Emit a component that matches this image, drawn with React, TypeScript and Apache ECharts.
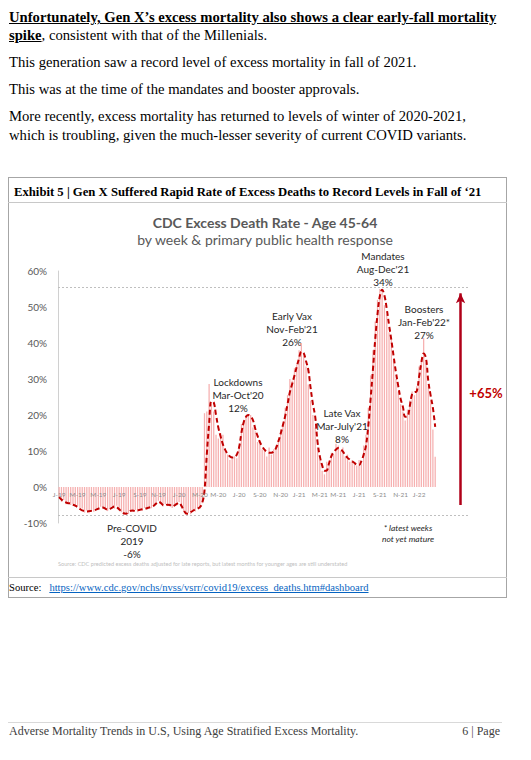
import React, { useEffect, useRef } from "react";
import * as echarts from "echarts";

// ---- data (weekly excess death rate, age 45-64, % above expected) ----
const FIRST_WEEK = { year: 2019, month: 0, day: 5 };
const MONTH_LETTERS = ["J", "F", "M", "A", "M", "J", "J", "A", "S", "O", "N", "D"];

const WEEKLY_EXCESS = [
  -3.2, -4.1, -3.6, -4.8, -4.2, -5.0, -4.7, -5.5, -5.2, -6.3,
  -6.0, -7.1, -6.5, -7.3, -6.2, -6.9, -6.0, -6.4, -5.5, -6.1,
  -5.8, -6.7, -5.9, -5.3, -6.0, -5.2, -6.5, -7.0, -7.8, -7.1,
  -7.5, -6.3, -6.9, -6.4, -7.0, -6.0, -6.6, -5.8, -6.3, -5.5,
  -5.9, -4.8, -5.0, -3.8, -4.6, -5.4, -4.7, -5.3, -4.8, -5.8,
  -4.9, -5.1, -4.2, -5.6, -6.9, -7.8, -7.2, -7.6, -6.4, -6.8,
  -5.8, -6.1, -4.5,
  20.5, 21.0, 28.6, 23.0, 21.0, 14.5, 13.5, 15.0, 14.5, 10.5,
  9.0, 7.5, 8.0, 8.5, 8.0, 11.5, 17.5, 18.0, 20.0, 20.2,
  20.0, 16.5, 15.5, 12.5, 12.0, 10.5, 10.0, 8.5, 11.0, 9.0,
  10.5, 11.5, 13.0, 16.0, 17.5, 22.0, 25.5, 30.0, 29.5, 33.0,
  34.0, 38.0, 40.0, 36.5, 33.5, 28.5, 24.0, 20.0, 16.5, 11.0,
  7.5, 4.5, 3.5, 7.0, 6.0, 9.5, 9.0, 12.0, 11.5, 10.0,
  11.0, 8.5, 9.0, 7.0, 7.5, 6.5, 6.0, 7.5, 6.5, 11.5,
  14.5, 22.0, 31.0, 38.0, 46.0, 52.0, 55.0, 54.0, 50.5, 48.0,
  43.0, 41.0, 35.0, 30.0, 26.5, 23.0, 21.0, 18.5, 21.5, 24.0,
  26.5, 25.5, 28.0, 33.5, 35.5, 41.4, 34.5, 28.0, 24.0, 16.0,
  8.4,
];

const TREND_EXCESS = [
  -2.8, -3.5, -4.0, -4.3, -4.5, -4.6, -4.9, -5.2, -5.6, -6.1,
  -6.5, -6.7, -6.8, -6.7, -6.6, -6.5, -6.3, -6.0, -5.8, -5.7,
  -6.0, -6.3, -6.1, -5.7, -5.4, -5.6, -6.2, -6.8, -7.3, -7.4,
  -7.0, -6.6, -6.5, -6.7, -6.5, -6.3, -6.2, -6.0, -5.9, -5.7,
  -5.5, -5.2, -4.6, -4.1, -4.4, -5.0, -5.1, -4.9, -5.0, -5.4,
  -5.1, -4.7, -4.4, -5.2, -6.5, -7.3, -7.4, -7.0, -6.6, -6.2,
  -6.0, -5.6, -4.5,
  -1.0, 9.0, 17.5, 23.8, 23.5, 20.0, 16.5, 14.0, 11.8, 10.3,
  9.2, 8.5, 8.2, 8.3, 9.0, 11.0, 15.0, 18.0, 19.5, 20.0,
  19.6, 18.6, 16.2, 14.2, 12.5, 11.3, 10.4, 9.8, 9.5, 9.5,
  9.9, 10.8, 12.6, 14.8, 17.2, 19.8, 23.0, 26.3, 28.6, 31.0,
  33.4, 35.8, 37.6, 37.2, 35.0, 32.5, 27.5, 23.0, 19.5, 12.5,
  8.5, 6.0, 4.5, 4.6, 6.6, 8.6, 9.6, 10.4, 10.8, 10.5,
  9.8, 8.9, 8.1, 7.6, 7.1, 6.7, 6.2, 6.1, 7.2, 9.0,
  11.5, 17.0, 24.5, 32.5, 41.0, 48.0, 53.0, 54.8, 53.2, 49.5,
  45.0, 40.8, 36.2, 31.8, 28.0, 24.5, 22.3, 19.5, 19.6, 22.5,
  25.8, 26.3, 26.6, 30.5, 34.5, 37.1, 35.8, 29.5, 25.5, 22.0,
  16.7,
];

const Y_MIN = -10;
const Y_MAX = 60;
const Y_STEP = 10;
const PEAK_LEVEL = 55.6;
const TROUGH_LEVEL = -7.8;
const ARROW_FROM = -5;
const ARROW_TO = 53.8;
const ARROW_WEEK = 174;
const EXTRA_WEEKS = 14;

const ANNOTATIONS = [
  { lines: ["Lockdowns", "Mar-Oct'20", "12%"], x: 238, y: 382 },
  { lines: ["Early Vax", "Nov-Feb'21", "26%"], x: 292, y: 316 },
  { lines: ["Late Vax", "Mar-July'21", "8%"], x: 342, y: 413 },
  { lines: ["Mandates", "Aug-Dec'21", "34%"], x: 383, y: 256 },
  { lines: ["Boosters", "Jan-Feb'22*", "27%"], x: 424, y: 309 },
  { lines: ["Pre-COVID", "2019", "-6%"], x: 132, y: 528 },
];

const CHART_FONT = "Lato, 'Open Sans', sans-serif";
const SERIF = "'Liberation Serif', 'Times New Roman', serif";

const weekDates = Array.from(
  { length: WEEKLY_EXCESS.length + EXTRA_WEEKS },
  (_, i) => new Date(Date.UTC(FIRST_WEEK.year, FIRST_WEEK.month, FIRST_WEEK.day + 7 * i))
);
const categories = weekDates.map((d) => d.toISOString().slice(0, 10));

function tickLabel(i: number): string {
  if (i >= WEEKLY_EXCESS.length) return "";
  const d = weekDates[i];
  const m = d.getUTCMonth();
  if (d.getUTCDate() <= 7 && m % 2 === 0) {
    return MONTH_LETTERS[m] + "-" + String(d.getUTCFullYear()).slice(2);
  }
  return "";
}

function buildGraphic() {
  const els: any[] = [];
  const txt = (text: string, x: number, y: number, font: string, fill: string, align = "center") => ({
    type: "text",
    x,
    y,
    silent: true,
    style: {
      text,
      font,
      fill,
      textAlign: align,
      textVerticalAlign: "middle",
      align,
      verticalAlign: "middle",
    },
  });
  els.push(txt("CDC Excess Death Rate - Age 45-64", 265, 222, `bold 14px ${CHART_FONT}`, "#595959"));
  els.push(txt("by week & primary public health response", 265, 239, `14px ${CHART_FONT}`, "#595959"));
  ANNOTATIONS.forEach((a) => {
    a.lines.forEach((l, k) => {
      els.push(txt(l, a.x, a.y + k * 13, `10px ${CHART_FONT}`, "#262626"));
    });
  });
  els.push(txt("* latest weeks", 408, 528, `italic 8.5px ${CHART_FONT}`, "#262626"));
  els.push(txt("not yet mature", 408, 539, `italic 8.5px ${CHART_FONT}`, "#262626"));
  els.push(txt("+65%", 486, 393, `bold 13px ${CHART_FONT}`, "#C00000"));
  els.push(
    txt(
      "Source: CDC predicted excess deaths adjusted for late reports, but latest months for younger ages are still understated",
      58,
      563,
      `5.6px ${CHART_FONT}`,
      "#c0c0c0",
      "left"
    )
  );
  return els;
}

const GRID_TOP = 271;
const GRID_BOTTOM_Y = 523;

function Chart() {
  const ref = useRef<HTMLDivElement>(null);
  useEffect(() => {
    if (!ref.current) return;
    const chart = echarts.init(ref.current, undefined, { renderer: "svg" });
    const plotRight = 58 + categories.length * 2.307;
    const plotHeight = GRID_BOTTOM_Y - GRID_TOP;
    // place the category axis on the zero line of the value axis
    const zeroOffset = -((0 - Y_MIN) / (Y_MAX - Y_MIN)) * plotHeight;
    chart.setOption({
      animation: false,
      grid: { left: 58, right: 531 - plotRight, top: GRID_TOP, bottom: 760 - GRID_BOTTOM_Y, containLabel: false },
      xAxis: {
        type: "category",
        data: categories,
        boundaryGap: true,
        position: "bottom",
        offset: zeroOffset,
        z: 6,
        axisLine: { show: false, onZero: false },
        axisTick: { show: false },
        splitLine: { show: false },
        axisLabel: {
          interval: (i: number) => tickLabel(i) !== "",
          formatter: (_v: string, i: number) => tickLabel(i),
          fontSize: 6.5,
          color: "#8c8c8c",
          margin: 4,
          fontFamily: CHART_FONT,
          hideOverlap: false,
        },
      },
      yAxis: {
        type: "value",
        min: Y_MIN,
        max: Y_MAX,
        interval: Y_STEP,
        axisLine: { show: true, lineStyle: { color: "#d0d0d0", width: 1 } },
        axisTick: { show: false },
        splitLine: { show: false },
        axisLabel: {
          formatter: "{value}%",
          color: "#595959",
          fontSize: 10,
          margin: 11,
          fontFamily: CHART_FONT,
        },
      },
      series: [
        {
          type: "bar",
          name: "Weekly excess",
          data: WEEKLY_EXCESS,
          barWidth: "55%",
          silent: true,
          z: 2,
          itemStyle: { color: "#F6B0B0" },
          markLine: {
            silent: true,
            symbol: ["none", "none"],
            label: { show: false },
            data: [
              { yAxis: PEAK_LEVEL, lineStyle: { type: [2, 2], color: "#bfbfbf", width: 1 } },
              { yAxis: TROUGH_LEVEL, lineStyle: { type: [2, 2], color: "#bfbfbf", width: 1 } },
              [
                {
                  coord: [categories[ARROW_WEEK], ARROW_FROM],
                  symbol: "none",
                  lineStyle: { type: "solid", color: "#B00018", width: 2.5 },
                },
                { coord: [categories[ARROW_WEEK], ARROW_TO], symbol: "arrow", symbolSize: [7, 10] },
              ],
            ],
          },
        },
        {
          type: "line",
          name: "Trend",
          data: TREND_EXCESS,
          smooth: 0.4,
          symbol: "none",
          silent: true,
          lineStyle: { color: "#C00000", width: 2, type: [5, 3] },
          z: 3,
        },
      ],
      graphic: buildGraphic(),
    });
    return () => chart.dispose();
  }, []);
  return (
    <div
      ref={ref}
      style={{ position: "absolute", left: 0, top: 0, width: 531, height: 760, zIndex: 2, pointerEvents: "none" }}
    />
  );
}

const lineStyle = (top: number, extra: React.CSSProperties = {}): React.CSSProperties => ({
  position: "absolute",
  left: 9,
  top,
  whiteSpace: "nowrap",
  fontSize: "14.67px",
  lineHeight: "18px",
  color: "#000",
  ...extra,
});

export default function App() {
  return (
    <div
      style={{
        position: "absolute",
        left: 0,
        top: 0,
        width: 531,
        height: 760,
        background: "#fff",
        fontFamily: SERIF,
        overflow: "hidden",
      }}
    >
      <div style={lineStyle(8, { fontWeight: "bold", textDecoration: "underline" })}>
        Unfortunately, Gen X’s excess mortality also shows a clear early-fall mortality
      </div>
      <div style={lineStyle(26)}>
        <span style={{ fontWeight: "bold", textDecoration: "underline" }}>spike</span>, consistent with that of the
        Millenials.
      </div>
      <div style={lineStyle(53)}>This generation saw a record level of excess mortality in fall of 2021.</div>
      <div style={lineStyle(80)}>This was at the time of the mandates and booster approvals.</div>
      <div style={lineStyle(107)}>
        More recently, excess mortality has returned to levels of winter of 2020-2021,
      </div>
      <div style={lineStyle(126)}>
        which is troubling, given the much-lesser severity of current COVID variants.
      </div>

      {/* exhibit box */}
      <div
        style={{
          position: "absolute",
          left: 8,
          top: 177,
          width: 499,
          height: 421,
          border: "1px solid #a6a6a6",
          boxSizing: "border-box",
        }}
      />
      <div
        style={{
          position: "absolute",
          left: 14,
          top: 184,
          whiteSpace: "nowrap",
          fontWeight: "bold",
          fontSize: "12.7px",
          lineHeight: "16px",
          color: "#000",
        }}
      >
        Exhibit 5 | Gen X Suffered Rapid Rate of Excess Deaths to Record Levels in Fall of ‘21
      </div>
      <div style={{ position: "absolute", left: 8, top: 202, width: 499, height: 1, background: "#c8c8c8" }} />
      <div style={{ position: "absolute", left: 8, top: 577, width: 499, height: 1, background: "#c8c8c8" }} />
      <div
        style={{
          position: "absolute",
          left: 9,
          top: 580,
          whiteSpace: "nowrap",
          fontSize: "10.6px",
          lineHeight: "15px",
          color: "#000",
        }}
      >
        Source:
        <span style={{ color: "#0563C1", textDecoration: "underline", marginLeft: 8 }}>
          https://www.cdc.gov/nchs/nvss/vsrr/covid19/excess_deaths.htm#dashboard
        </span>
      </div>

      {/* footer */}
      <div style={{ position: "absolute", left: 8, top: 722, width: 494, height: 1, background: "#d9d9d9" }} />
      <div
        style={{
          position: "absolute",
          left: 9,
          top: 724,
          whiteSpace: "nowrap",
          fontSize: "12px",
          lineHeight: "15px",
          color: "#404040",
        }}
      >
        Adverse Mortality Trends in U.S, Using Age Stratified Excess Mortality.
      </div>
      <div
        style={{
          position: "absolute",
          right: 31,
          top: 724,
          whiteSpace: "nowrap",
          fontSize: "12px",
          lineHeight: "15px",
          color: "#404040",
        }}
      >
        6 | Page
      </div>

      <Chart />
    </div>
  );
}
